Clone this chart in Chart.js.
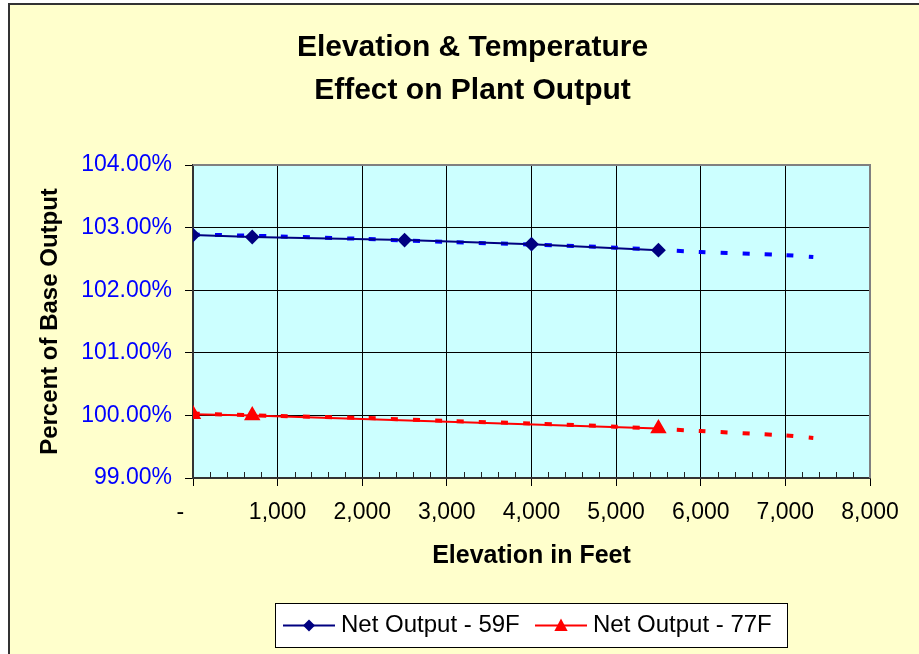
<!DOCTYPE html>
<html>
<head>
<meta charset="utf-8">
<title>Elevation & Temperature Effect on Plant Output</title>
<script src="https://cdn.jsdelivr.net/npm/chart.js@4.4.1/dist/chart.umd.min.js"></script>
<style>
  html, body { margin: 0; padding: 0; background: #fff; }
  #wrap { width: 919px; height: 654px; }
</style>
</head>
<body>
<div id="wrap"><canvas id="plantChart" width="919" height="654"></canvas></div>
<script>
// --- data ---
const elev59 = [0, 700, 2500, 4000, 5500];
const output59 = [102.88, 102.85, 102.80, 102.735, 102.64];
const elev77 = [0, 700, 5500];
const output77 = [100.02, 100.00, 99.79];
// trendline (forecast) values
const trendElev = [0, 1000, 2000, 3000, 4000, 5000, 6000, 7000, 7330];
const trend59 = [102.89, 102.86, 102.82, 102.77, 102.73, 102.68, 102.61, 102.56, 102.53];
const trend77 = [100.03, 99.99, 99.96, 99.91, 99.87, 99.82, 99.75, 99.68, 99.64];
const seriesLabels = ['Net Output - 59F', 'Net Output - 77F'];
const xTicks = [0, 1000, 2000, 3000, 4000, 5000, 6000, 7000, 8000];
const yTicks = [99, 100, 101, 102, 103, 104];

const FONT = "'Liberation Sans', Arial, sans-serif";

function pts(xs, ys) {
  return xs.map((x, i) => ({x: x, y: ys[i]}));
}

// backgrounds, frame, plot border, minor ticks
const framePlugin = {
  id: 'frame',
  beforeDraw(chart) {
    const c = chart.ctx, a = chart.chartArea;
    c.save();
    c.fillStyle = '#ffffff';
    c.fillRect(0, 0, chart.width, chart.height);
    c.fillStyle = '#FFFFCC';
    c.fillRect(9, 4, chart.width, chart.height);
    c.strokeStyle = '#333333';
    c.lineWidth = 2;
    c.beginPath();
    c.moveTo(9, chart.height);
    c.lineTo(9, 4);
    c.lineTo(chart.width, 4);
    c.stroke();
    c.fillStyle = '#CCFFFF';
    c.fillRect(a.left, a.top, a.right - a.left, a.bottom - a.top);
    c.restore();
  },
  beforeDatasetsDraw(chart) {
    const c = chart.ctx, a = chart.chartArea, xs = chart.scales.x;
    c.save();
    c.strokeStyle = '#808080';
    c.lineWidth = 2;
    c.beginPath();
    c.moveTo(a.left, a.top);
    c.lineTo(a.right, a.top);
    c.lineTo(a.right, a.bottom);
    c.stroke();
    c.strokeStyle = '#222222';
    c.lineWidth = 1;
    c.beginPath();
    for (let v = 200; v < 8000; v += 200) {
      if (v % 1000 === 0) continue;
      const px = Math.round(xs.getPixelForValue(v)) + 0.5;
      c.moveTo(px, a.bottom);
      c.lineTo(px, a.bottom - 6);
    }
    c.stroke();
    c.restore();
  }
};

// legend box with line + marker samples
function drawMarker(c, style, x, y, r, color) {
  c.fillStyle = color;
  c.beginPath();
  if (style === 'rectRot') {
    c.moveTo(x, y - r); c.lineTo(x + r, y); c.lineTo(x, y + r); c.lineTo(x - r, y);
  } else {
    c.moveTo(x, y - r); c.lineTo(x + r * 0.95, y + r * 0.8); c.lineTo(x - r * 0.95, y + r * 0.8);
  }
  c.closePath();
  c.fill();
}

const legendPlugin = {
  id: 'boxLegend',
  afterDraw(chart) {
    const c = chart.ctx;
    const box = {x: 275, y: 603, w: 512, h: 44};
    const cy = box.y + box.h / 2 + 0.5;
    c.save();
    c.fillStyle = '#ffffff';
    c.fillRect(box.x, box.y, box.w, box.h);
    c.strokeStyle = '#000000';
    c.lineWidth = 1;
    c.strokeRect(box.x + 0.5, box.y + 0.5, box.w, box.h);
    const starts = [283, 535];
    seriesLabels.forEach((lab, i) => {
      const ds = chart.data.datasets[i];
      const x0 = starts[i];
      c.strokeStyle = ds.borderColor;
      c.lineWidth = 2;
      c.beginPath();
      c.moveTo(x0, cy);
      c.lineTo(x0 + 52, cy);
      c.stroke();
      drawMarker(c, ds.pointStyle, x0 + 26, cy, i === 0 ? 6 : 7, ds.borderColor);
      c.fillStyle = '#000000';
      c.font = '24px ' + FONT;
      c.textBaseline = 'middle';
      c.textAlign = 'left';
      c.fillText(lab, x0 + 58, cy);
    });
    c.restore();
  }
};

const ctx = document.getElementById('plantChart').getContext('2d');
const chart = new Chart(ctx, {
  type: 'line',
  data: {
    datasets: [
      {
        label: seriesLabels[0],
        data: pts(elev59, output59),
        borderColor: '#000080',
        backgroundColor: '#000080',
        borderWidth: 2,
        pointStyle: 'rectRot',
        pointRadius: 6,
        pointBackgroundColor: '#000080',
        pointBorderColor: '#000080',
        yAxisID: 'y'
      },
      {
        label: seriesLabels[1],
        data: pts(elev77, output77),
        borderColor: '#FF0000',
        backgroundColor: '#FF0000',
        borderWidth: 2,
        pointStyle: 'triangle',
        pointRadius: 7.5,
        pointBackgroundColor: '#FF0000',
        pointBorderColor: '#FF0000',
        yAxisID: 'y'
      },
      {
        label: 'trend 59F',
        data: pts(trendElev, trend59),
        borderColor: '#0000FF',
        borderWidth: 4,
        borderDash: [7, 15],
        pointRadius: 0,
        tension: 0.3,
        yAxisID: 'y'
      },
      {
        label: 'trend 77F',
        data: pts(trendElev, trend77),
        borderColor: '#FF0000',
        borderWidth: 4,
        borderDash: [7, 15],
        pointRadius: 0,
        tension: 0.3,
        yAxisID: 'y'
      }
    ]
  },
  options: {
    responsive: false,
    devicePixelRatio: 1,
    animation: false,
    events: [],
    layout: { padding: { left: 26, right: 0, top: 0, bottom: 83 } },
    plugins: {
      legend: { display: false },
      tooltip: { enabled: false },
      title: {
        display: true,
        text: ['Elevation & Temperature', 'Effect on Plant Output'],
        color: '#000000',
        font: { family: FONT, size: 30, weight: 'bold', lineHeight: '43px' },
        padding: { top: 26, bottom: 53 }
      }
    },
    scales: {
      x: {
        type: 'linear',
        min: 0,
        max: 8000,
        afterBuildTicks: s => { s.ticks = xTicks.map(v => ({value: v})); },
        afterFit: s => { s.height = 93; },
        grid: { color: '#000000', lineWidth: 1, tickLength: 8 },
        border: { color: '#333333', width: 2 },
        ticks: {
          color: '#000000',
          padding: 12.5,
          maxRotation: 0,
          autoSkip: false,
          font: { family: FONT, size: 23 },
          callback: v => v === 0 ? '-    ' : v.toLocaleString('en-US')
        },
        title: {
          display: true,
          text: 'Elevation in Feet',
          color: '#000000',
          padding: 0,
          font: { family: FONT, size: 25, weight: 'bold' }
        }
      },
      y: {
        type: 'linear',
        position: 'left',
        min: 99,
        max: 104,
        afterBuildTicks: s => { s.ticks = yTicks.map(v => ({value: v})); },
        afterFit: s => { s.width = 167; },
        grid: { color: '#000000', lineWidth: 1, tickLength: 8 },
        border: { color: '#333333', width: 2 },
        ticks: {
          color: '#0000FF',
          padding: 13,
          font: { family: FONT, size: 23 },
          callback: v => v.toFixed(2) + '%'
        },
        title: {
          display: true,
          text: 'Percent of Base Output',
          color: '#000000',
          padding: { top: 10, bottom: 0 },
          font: { family: FONT, size: 24, weight: 'bold' }
        }
      },
      pad: {
        type: 'linear',
        position: 'right',
        axis: 'y',
        display: true,
        grid: { display: false },
        border: { display: false },
        ticks: { display: false },
        afterFit: s => { s.width = 49; }
      }
    }
  },
  plugins: [framePlugin, legendPlugin]
});
</script>
</body>
</html>
